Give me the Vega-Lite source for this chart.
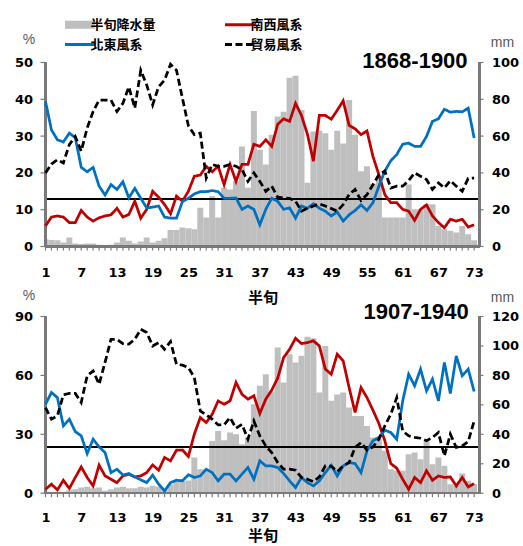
{
  "$schema": "https://vega.github.io/schema/vega-lite/v6.json",
  "padding": {"left": 13.5, "top": 17.5, "right": 0, "bottom": 0},
  "background": "white",
  "config": {
    "view": {"stroke": null},
    "font": "Liberation Sans",
    "axis": {"domain": false, "ticks": false, "labelFont": "DejaVu Sans", "labelFontWeight": "bold", "labelFontSize": 13, "labelColor": "#000000", "grid": false, "titleColor": "#000000", "labelOverlap": false}
  },
  "datasets": {
    "t": [
      {"i":1,"南西風系":5.6,"北東風系":39.4,"貿易風系":20.0,"mm":4.0},
      {"i":2,"南西風系":8.0,"北東風系":31.7,"貿易風系":22.4,"mm":3.6},
      {"i":3,"南西風系":8.3,"北東風系":29.0,"貿易風系":23.6,"mm":3.4},
      {"i":4,"南西風系":8.0,"北東風系":28.4,"貿易風系":22.7,"mm":2.2},
      {"i":5,"南西風系":6.5,"北東風系":30.8,"貿易風系":27.7,"mm":4.9},
      {"i":6,"南西風系":6.5,"北東風系":29.6,"貿易風系":29.9,"mm":1.6},
      {"i":7,"南西風系":9.8,"北東風系":21.5,"貿易風系":25.9,"mm":1.3},
      {"i":8,"南西風系":8.0,"北東風系":20.3,"貿易風系":32.2,"mm":1.6},
      {"i":9,"南西風系":6.9,"北東風系":21.5,"貿易風系":36.7,"mm":1.6},
      {"i":10,"南西風系":7.8,"北東風系":16.4,"貿易風系":39.8,"mm":0.9},
      {"i":11,"南西風系":8.3,"北東風系":14.0,"貿易風系":39.8,"mm":0.5},
      {"i":12,"南西風系":8.6,"北東風系":16.8,"貿易風系":39.8,"mm":0.9},
      {"i":13,"南西風系":10.4,"北東風系":15.5,"貿易風系":36.7,"mm":2.2},
      {"i":14,"南西風系":8.0,"北東風系":17.6,"貿易風系":38.9,"mm":4.9},
      {"i":15,"南西風系":8.7,"北東風系":13.2,"貿易風系":43.4,"mm":3.1},
      {"i":16,"南西風系":12.3,"北東風系":15.8,"貿易風系":37.6,"mm":1.6},
      {"i":17,"南西風系":7.7,"北東風系":13.1,"貿易風系":47.9,"mm":2.7},
      {"i":18,"南西風系":10.1,"北東風系":10.5,"貿易風系":43.9,"mm":4.9},
      {"i":19,"南西風系":15.0,"北東風系":10.7,"貿易風系":38.5,"mm":2.2},
      {"i":20,"南西風系":13.4,"北東風系":11.0,"貿易風系":43.4,"mm":3.1},
      {"i":21,"南西風系":11.4,"北東風系":8.0,"貿易風系":45.2,"mm":4.5},
      {"i":22,"南西風系":8.9,"北東風系":7.7,"貿易風系":49.5,"mm":9.0},
      {"i":23,"南西風系":13.7,"北東風系":7.7,"貿易風系":47.9,"mm":9.0},
      {"i":24,"南西風系":12.3,"北東風系":12.2,"貿易風系":40.3,"mm":10.3},
      {"i":25,"南西風系":15.0,"北東風系":13.1,"貿易風系":32.8,"mm":9.9},
      {"i":26,"南西風系":19.1,"北東風系":14.3,"貿易風系":30.4,"mm":9.4},
      {"i":27,"南西風系":19.4,"北東風系":14.9,"貿易風系":30.8,"mm":21.1},
      {"i":28,"南西風系":21.8,"北東風系":14.9,"貿易風系":18.6,"mm":15.7},
      {"i":29,"南西風系":20.3,"北東風系":15.2,"貿易風系":22.3,"mm":27.4},
      {"i":30,"南西風系":21.8,"北東風系":14.9,"貿易風系":21.8,"mm":15.7},
      {"i":31,"南西風系":16.8,"北東風系":13.1,"貿易風系":21.8,"mm":31.9},
      {"i":32,"南西風系":22.3,"北東風系":13.1,"貿易風系":22.3,"mm":31.0},
      {"i":33,"南西風系":17.7,"北東風系":13.2,"貿易風系":21.8,"mm":35.5},
      {"i":34,"南西風系":22.3,"北東風系":10.1,"貿易風系":20.9,"mm":54.4},
      {"i":35,"南西風系":22.3,"北東風系":11.0,"貿易風系":17.7,"mm":31.9},
      {"i":36,"南西風系":27.8,"北東風系":10.1,"貿易風系":20.0,"mm":73.7},
      {"i":37,"南西風系":27.2,"北東風系":5.9,"貿易風系":17.7,"mm":52.6},
      {"i":38,"南西風系":29.0,"北東風系":10.1,"貿易風系":15.0,"mm":44.5},
      {"i":39,"南西風系":27.2,"北東風系":13.1,"貿易風系":16.4,"mm":60.7},
      {"i":40,"南西風系":33.2,"北東風系":12.3,"貿易風系":13.4,"mm":70.6},
      {"i":41,"南西風系":34.7,"北東風系":10.1,"貿易風系":13.2,"mm":73.3},
      {"i":42,"南西風系":34.0,"北東風系":10.5,"貿易風系":13.1,"mm":91.7},
      {"i":43,"南西風系":38.9,"北東風系":7.7,"貿易風系":12.3,"mm":92.8},
      {"i":44,"南西風系":35.6,"北東風系":11.0,"貿易風系":9.6,"mm":74.2},
      {"i":45,"南西風系":30.5,"北東風系":10.4,"貿易風系":10.4,"mm":34.6},
      {"i":46,"南西風系":23.2,"北東風系":11.6,"貿易風系":11.0,"mm":62.5},
      {"i":47,"南西風系":35.6,"北東風系":10.4,"貿易風系":11.6,"mm":62.9},
      {"i":48,"南西風系":35.6,"北東風系":9.6,"貿易風系":11.0,"mm":61.6},
      {"i":49,"南西風系":34.6,"北東風系":8.3,"貿易風系":10.3,"mm":52.6},
      {"i":50,"南西風系":37.0,"北東風系":9.4,"貿易風系":9.6,"mm":62.9},
      {"i":51,"南西風系":39.6,"北東風系":6.9,"貿易風系":11.4,"mm":56.0},
      {"i":52,"南西風系":32.9,"北東風系":8.6,"貿易風系":14.1,"mm":79.6},
      {"i":53,"南西風系":32.0,"北東風系":9.8,"貿易風系":15.5,"mm":60.7},
      {"i":54,"南西風系":30.4,"北東風系":11.3,"貿易風系":12.5,"mm":40.9},
      {"i":55,"南西風系":31.4,"北東風系":9.8,"貿易風系":14.1,"mm":43.6},
      {"i":56,"南西風系":24.5,"北東風系":11.9,"貿易風系":16.8,"mm":34.1},
      {"i":57,"南西風系":19.5,"北東風系":16.4,"貿易風系":19.5,"mm":38.2},
      {"i":58,"南西風系":14.1,"北東風系":20.5,"貿易風系":20.5,"mm":15.7},
      {"i":59,"南西風系":11.9,"北東風系":23.3,"貿易風系":15.9,"mm":15.7},
      {"i":60,"南西風系":11.9,"北東風系":25.0,"貿易風系":16.4,"mm":15.7},
      {"i":61,"南西風系":10.1,"北東風系":27.8,"貿易風系":16.4,"mm":15.7},
      {"i":62,"南西風系":9.6,"北東風系":28.1,"貿易風系":17.9,"mm":33.7},
      {"i":63,"南西風系":7.1,"北東風系":27.2,"貿易風系":20.0,"mm":20.2},
      {"i":64,"南西風系":10.1,"北東風系":27.2,"貿易風系":19.1,"mm":20.2},
      {"i":65,"南西風系":11.3,"北東風系":29.9,"貿易風系":18.2,"mm":22.9},
      {"i":66,"南西風系":8.3,"北東風系":34.0,"貿易風系":15.5,"mm":22.9},
      {"i":67,"南西風系":6.5,"北東風系":34.7,"貿易風系":17.3,"mm":11.2},
      {"i":68,"南西風系":5.1,"北東風系":37.3,"貿易風系":15.9,"mm":9.4},
      {"i":69,"南西風系":7.4,"北東風系":36.5,"貿易風系":17.9,"mm":8.5},
      {"i":70,"南西風系":6.9,"北東風系":36.7,"貿易風系":16.4,"mm":7.6},
      {"i":71,"南西風系":7.4,"北東風系":36.6,"貿易風系":15.0,"mm":11.2},
      {"i":72,"南西風系":5.3,"北東風系":37.6,"貿易風系":18.5,"mm":6.7},
      {"i":73,"南西風系":5.9,"北東風系":29.5,"貿易風系":18.6,"mm":3.4}
    ],
    "b": [
      {"i":1,"南西風系":2.0,"北東風系":45.3,"貿易風系":43.6,"mm":1.0},
      {"i":2,"南西風系":4.6,"北東風系":51.3,"貿易風系":37.7,"mm":1.0},
      {"i":3,"南西風系":1.7,"北東風系":48.7,"貿易風系":39.4,"mm":1.0},
      {"i":4,"南西風系":6.6,"北東風系":34.3,"貿易風系":50.1,"mm":1.0},
      {"i":5,"南西風系":2.4,"北東風系":37.7,"貿易風系":50.8,"mm":2.0},
      {"i":6,"南西風系":8.0,"北東風系":31.4,"貿易風系":50.8,"mm":2.7},
      {"i":7,"南西風系":13.4,"北東風系":29.2,"貿易風系":46.2,"mm":3.8},
      {"i":8,"南西風系":8.0,"北東風系":20.2,"貿易風系":59.8,"mm":4.3},
      {"i":9,"南西風系":3.7,"北東風系":27.5,"貿易風系":62.3,"mm":3.4},
      {"i":10,"南西風系":14.3,"北東風系":23.6,"貿易風系":55.5,"mm":3.8},
      {"i":11,"南西風系":8.8,"北東風系":20.7,"貿易風系":66.6,"mm":1.6},
      {"i":12,"南西風系":7.1,"北東風系":10.5,"貿易風系":78.4,"mm":2.7},
      {"i":13,"南西風系":5.4,"北東風系":12.2,"貿易風系":78.4,"mm":3.8},
      {"i":14,"南西風系":8.8,"北東風系":9.3,"貿易風系":76.2,"mm":4.3},
      {"i":15,"南西風系":9.7,"北東風系":10.0,"貿易風系":75.9,"mm":3.4},
      {"i":16,"南西風系":8.3,"北東風系":8.3,"貿易風系":78.4,"mm":3.4},
      {"i":17,"南西風系":8.8,"北東風系":6.8,"貿易風系":83.5,"mm":4.3},
      {"i":18,"南西風系":10.5,"北東風系":5.4,"貿易風系":81.8,"mm":3.8},
      {"i":19,"南西風系":14.4,"北東風系":9.2,"貿易風系":75.0,"mm":5.0},
      {"i":20,"南西風系":11.7,"北東風系":4.6,"貿易風系":76.7,"mm":4.3},
      {"i":21,"南西風系":18.2,"北東風系":1.2,"貿易風系":73.3,"mm":2.7},
      {"i":22,"南西風系":16.5,"北東風系":5.4,"貿易風系":77.2,"mm":6.1},
      {"i":23,"南西風系":21.9,"北東風系":6.6,"貿易風系":65.7,"mm":7.9},
      {"i":24,"南西風系":22.0,"北東風系":6.3,"貿易風系":65.2,"mm":8.4},
      {"i":25,"南西風系":18.7,"北東風系":9.4,"貿易風系":64.0,"mm":8.6},
      {"i":26,"南西風系":30.1,"北東風系":8.0,"貿易風系":58.9,"mm":24.2},
      {"i":27,"南西風系":38.5,"北東風系":8.8,"貿易風系":41.9,"mm":16.3},
      {"i":28,"南西風系":36.0,"北東風系":12.2,"貿易風系":39.9,"mm":16.3},
      {"i":29,"南西風系":40.2,"北東風系":10.5,"貿易風系":37.7,"mm":35.5},
      {"i":30,"南西風系":47.0,"北東風系":6.3,"貿易風系":34.8,"mm":42.3},
      {"i":31,"南西風系":45.3,"北東風系":9.7,"貿易風系":34.8,"mm":36.0},
      {"i":32,"南西風系":47.0,"北東風系":9.7,"貿易風系":38.5,"mm":41.2},
      {"i":33,"南西風系":56.4,"北東風系":6.3,"貿易風系":33.1,"mm":40.1},
      {"i":34,"南西風系":50.4,"北東風系":9.7,"貿易風系":35.1,"mm":33.3},
      {"i":35,"南西風系":47.9,"北東風系":13.1,"貿易風系":27.5,"mm":37.8},
      {"i":36,"南西風系":49.6,"北東風系":7.1,"貿易風系":36.8,"mm":60.4},
      {"i":37,"南西風系":40.6,"北東風系":16.5,"貿易風系":29.2,"mm":72.9},
      {"i":38,"南西風系":47.9,"北東風系":13.9,"貿易風系":24.1,"mm":80.8},
      {"i":39,"南西風系":52.5,"北東風系":13.9,"貿易風系":20.7,"mm":69.1},
      {"i":40,"南西風系":58.6,"北東風系":13.1,"貿易風系":15.6,"mm":98.9},
      {"i":41,"南西風系":69.1,"北東風系":10.0,"貿易風系":12.2,"mm":75.2},
      {"i":42,"南西風系":73.3,"北東風系":6.3,"貿易風系":12.2,"mm":94.4},
      {"i":43,"南西風系":78.9,"北東風系":2.9,"貿易風系":11.7,"mm":88.7},
      {"i":44,"南西風系":76.2,"北東風系":8.0,"貿易風系":8.0,"mm":93.3},
      {"i":45,"南西風系":76.7,"北東風系":5.4,"貿易風系":7.1,"mm":106.2},
      {"i":46,"南西風系":77.6,"北東風系":3.7,"貿易風系":5.9,"mm":105.3},
      {"i":47,"南西風系":75.0,"北東風系":6.3,"貿易風系":8.3,"mm":68.4},
      {"i":48,"南西風系":63.2,"北東風系":10.5,"貿易風系":13.9,"mm":100.0},
      {"i":49,"南西風系":60.6,"北東風系":14.2,"貿易風系":13.8,"mm":62.7},
      {"i":50,"南西風系":70.8,"北東風系":8.8,"貿易風系":11.0,"mm":67.0},
      {"i":51,"南西風系":67.4,"北東風系":13.9,"貿易風系":13.9,"mm":68.4},
      {"i":52,"南西風系":53.8,"北東風系":15.6,"貿易風系":15.6,"mm":58.2},
      {"i":53,"南西風系":41.1,"北東風系":15.1,"貿易風系":23.3,"mm":52.5},
      {"i":54,"南西風系":53.8,"北東風系":10.5,"貿易風系":25.8,"mm":52.5},
      {"i":55,"南西風系":48.7,"北東風系":21.6,"貿易風系":21.9,"mm":45.7},
      {"i":56,"南西風系":42.3,"北東風系":26.7,"貿易風系":23.6,"mm":37.8},
      {"i":57,"南西風系":35.5,"北東風系":28.4,"貿易風系":27.5,"mm":36.7},
      {"i":58,"南西風系":26.7,"北東風系":32.1,"貿易風系":34.3,"mm":28.8},
      {"i":59,"南西風系":15.1,"北東風系":30.9,"貿易風系":40.2,"mm":16.3},
      {"i":60,"南西風系":12.7,"北東風系":27.5,"貿易風系":48.7,"mm":15.2},
      {"i":61,"南西風系":7.1,"北東風系":47.0,"貿易風系":31.7,"mm":15.2},
      {"i":62,"南西風系":2.0,"北東風系":60.6,"貿易風系":29.2,"mm":26.5},
      {"i":63,"南西風系":8.0,"北東風系":54.7,"貿易風系":28.4,"mm":27.6},
      {"i":64,"南西風系":5.4,"北東風系":63.2,"貿易風系":28.0,"mm":23.1},
      {"i":65,"南西風系":11.4,"北東風系":52.1,"貿易風系":26.7,"mm":35.1},
      {"i":66,"南西風系":6.6,"北東風系":58.1,"貿易風系":28.4,"mm":19.7},
      {"i":67,"南西風系":8.8,"北東風系":47.0,"貿易風系":30.9,"mm":24.2},
      {"i":68,"南西風系":8.0,"北東風系":66.6,"貿易風系":19.0,"mm":18.6},
      {"i":69,"南西風系":8.3,"北東風系":50.8,"貿易風系":30.1,"mm":6.1},
      {"i":70,"南西風系":3.7,"北東風系":69.9,"貿易風系":23.3,"mm":5.0},
      {"i":71,"南西風系":8.0,"北東風系":59.8,"貿易風系":24.1,"mm":13.4},
      {"i":72,"南西風系":3.2,"北東風系":63.2,"貿易風系":26.3,"mm":8.4},
      {"i":73,"南西風系":4.9,"北東風系":51.8,"貿易風系":36.8,"mm":6.1}
    ]
  },
  "bounds": "flush",
  "spacing": 70,
  "resolve": {"scale": {"color": "shared"}, "legend": {"color": "shared"}},
  "vconcat": [
    {
      "width": 434, "height": 184,
      "data": {"name": "t"},
      "resolve": {"scale": {"y": "independent"}},
      "layer": [
        {
          "layer": [
            {
              "mark": {"type": "bar", "width": 6.0, "clip": true},
              "encoding": {
                "x": {"field": "i", "type": "quantitative", "scale": {"domain": [1, 73.9], "nice": false, "zero": false, "padding": 0},
                  "axis": {"values": [1,7,13,19,25,31,37,43,49,55,61,67,73], "labelOverlap": false, "labelFlush": false, "labelPadding": 20, "title": "半旬", "titleFont": "Noto Sans CJK TC", "titleFontSize": 15, "titleFontWeight": "bold", "titlePadding": 11}},
                "y": {"field": "mm", "type": "quantitative", "scale": {"domain": [0, 100], "nice": false},
                  "axis": {"orient": "right", "values": [0,20,40,60,80,100], "labelOverlap": false, "labelPadding": 12, "title": "mm", "titleAngle": 0, "titleX": 22.5, "titleY": -16, "titleAlign": "center", "titleBaseline": "alphabetic", "titleFontWeight": "normal", "titleFontSize": 14, "titleColor": "#595959"}},
                "color": {"datum": "半旬降水量", "type": "nominal",
                  "scale": {"domain": ["半旬降水量", "北東風系", "南西風系", "貿易風系"], "range": ["#BFBFBF", "#0070C0", "#C00000", "#000000"]},
                  "legend": {"orient": "none", "legendX": 28, "legendY": -44.5, "columns": 2, "title": null,
                    "labelFont": "Noto Sans CJK TC", "labelFontSize": 13, "labelFontWeight": "bold", "labelColor": "#000000",
                    "labelOffset": 4, "columnPadding": 62, "rowPadding": 6, "symbolSize": 900, "symbolType": "stroke", "symbolStrokeWidth": 3,
                    "encode": {"symbols": {"update": {
                      "shape": {"signal": "datum.value === '半旬降水量' ? 'M-1,-0.27H1V0.27H-1Z' : 'stroke'"},
                      "fill": {"signal": "datum.value === '半旬降水量' ? '#BFBFBF' : 'transparent'"},
                      "stroke": {"signal": "datum.value === '半旬降水量' ? 'transparent' : datum.value === '南西風系' ? '#C00000' : datum.value === '北東風系' ? '#0070C0' : '#000000'"},
                      "strokeWidth": {"signal": "datum.value === '半旬降水量' ? 0 : 3"},
                      "strokeDash": {"signal": "datum.value === '貿易風系' ? [6, 3] : []"},
                      "opacity": {"value": 1}
                    }}}}
                }
              }
            },
            {
              "data": {"values": [{"mm": 0}, {"mm": 20}, {"mm": 40}, {"mm": 60}, {"mm": 80}, {"mm": 100}]},
              "mark": {"type": "rule", "color": "#7a7a7a", "strokeWidth": 1.2},
              "encoding": {
                "y": {"field": "mm", "type": "quantitative", "scale": {"domain": [0, 100], "nice": false},
                  "axis": {"orient": "right", "values": [0,20,40,60,80,100], "labelOverlap": false, "labelPadding": 12, "title": "mm", "titleAngle": 0, "titleX": 22.5, "titleY": -16, "titleAlign": "center", "titleBaseline": "alphabetic", "titleFontWeight": "normal", "titleFontSize": 14, "titleColor": "#595959"}},
                "x": {"datum": 73.9, "scale": {"domain": [1, 73.9], "nice": false, "zero": false, "padding": 0},
                  "axis": {"values": [1,7,13,19,25,31,37,43,49,55,61,67,73], "labelOverlap": false, "labelFlush": false, "labelPadding": 20, "title": "半旬", "titleFont": "Noto Sans CJK TC", "titleFontSize": 15, "titleFontWeight": "bold", "titlePadding": 11}},
                "x2": {"datum": 74.57}
              }
            }
          ]
        },
        {
          "layer": [
            {"mark": {"type": "rule", "color": "#000000", "strokeWidth": 1},
             "encoding": {"y": {"datum": 12.85, "scale": {"domain": [0, 50], "nice": false},
               "axis": {"orient": "left", "values": [0,10,20,30,40,50], "labelOverlap": false, "labelPadding": 13, "title": "%", "titleAngle": 0, "titleX": -17, "titleY": -19, "titleAlign": "center", "titleBaseline": "alphabetic", "titleFontWeight": "normal", "titleFontSize": 14, "titleColor": "#595959"}}}},
            {"mark": {"type": "rule", "color": "#7a7a7a", "strokeWidth": 1.7},
             "encoding": {"x": {"datum": 1, "scale": {"domain": [1, 73.9], "nice": false, "zero": false, "padding": 0},
               "axis": {"values": [1,7,13,19,25,31,37,43,49,55,61,67,73], "labelOverlap": false, "labelFlush": false, "labelPadding": 20, "title": "半旬", "titleFont": "Noto Sans CJK TC", "titleFontSize": 15, "titleFontWeight": "bold", "titlePadding": 11}}}},
            {"mark": {"type": "rule", "color": "#7a7a7a", "strokeWidth": 1.7},
             "encoding": {"x": {"datum": 73.9, "scale": {"domain": [1, 73.9], "nice": false, "zero": false, "padding": 0},
               "axis": {"values": [1,7,13,19,25,31,37,43,49,55,61,67,73], "labelOverlap": false, "labelFlush": false, "labelPadding": 20, "title": "半旬", "titleFont": "Noto Sans CJK TC", "titleFontSize": 15, "titleFontWeight": "bold", "titlePadding": 11}}}},
            {"mark": {"type": "rule", "color": "#7a7a7a", "strokeWidth": 1.7},
             "encoding": {"y": {"datum": 0, "scale": {"domain": [0, 50], "nice": false},
               "axis": {"orient": "left", "values": [0,10,20,30,40,50], "labelOverlap": false, "labelPadding": 13, "title": "%", "titleAngle": 0, "titleX": -17, "titleY": -19, "titleAlign": "center", "titleBaseline": "alphabetic", "titleFontWeight": "normal", "titleFontSize": 14, "titleColor": "#595959"}}}},
            {
              "mark": {"type": "rule", "color": "#7a7a7a", "strokeWidth": 1.2},
              "encoding": {
                "x": {"field": "i", "type": "quantitative", "scale": {"domain": [1, 73.9], "nice": false, "zero": false, "padding": 0},
                  "axis": {"values": [1,7,13,19,25,31,37,43,49,55,61,67,73], "labelOverlap": false, "labelFlush": false, "labelPadding": 20, "title": "半旬", "titleFont": "Noto Sans CJK TC", "titleFontSize": 15, "titleFontWeight": "bold", "titlePadding": 11}},
                "y": {"datum": 0, "scale": {"domain": [0, 50], "nice": false},
                  "axis": {"orient": "left", "values": [0,10,20,30,40,50], "labelOverlap": false, "labelPadding": 13, "title": "%", "titleAngle": 0, "titleX": -17, "titleY": -19, "titleAlign": "center", "titleBaseline": "alphabetic", "titleFontWeight": "normal", "titleFontSize": 14, "titleColor": "#595959"}},
                "y2": {"datum": -1.1}
              }
            },
            {
              "data": {"values": [{"v": 0}, {"v": 10}, {"v": 20}, {"v": 30}, {"v": 40}, {"v": 50}]},
              "mark": {"type": "rule", "color": "#7a7a7a", "strokeWidth": 1.2},
              "encoding": {
                "y": {"field": "v", "type": "quantitative", "scale": {"domain": [0, 50], "nice": false},
                  "axis": {"orient": "left", "values": [0,10,20,30,40,50], "labelOverlap": false, "labelPadding": 13, "title": "%", "titleAngle": 0, "titleX": -17, "titleY": -19, "titleAlign": "center", "titleBaseline": "alphabetic", "titleFontWeight": "normal", "titleFontSize": 14, "titleColor": "#595959"}},
                "x": {"datum": 1, "scale": {"domain": [1, 73.9], "nice": false, "zero": false, "padding": 0},
                  "axis": {"values": [1,7,13,19,25,31,37,43,49,55,61,67,73], "labelOverlap": false, "labelFlush": false, "labelPadding": 20, "title": "半旬", "titleFont": "Noto Sans CJK TC", "titleFontSize": 15, "titleFontWeight": "bold", "titlePadding": 11}},
                "x2": {"datum": 0.16}
              }
            },
            {
              "transform": [{"fold": ["南西風系", "北東風系", "貿易風系"], "as": ["s", "v"]}],
              "mark": {"type": "line", "strokeWidth": 2.75},
              "encoding": {
                "x": {"field": "i", "type": "quantitative", "scale": {"domain": [1, 73.9], "nice": false, "zero": false, "padding": 0},
                  "axis": {"values": [1,7,13,19,25,31,37,43,49,55,61,67,73], "labelOverlap": false, "labelFlush": false, "labelPadding": 20, "title": "半旬", "titleFont": "Noto Sans CJK TC", "titleFontSize": 15, "titleFontWeight": "bold", "titlePadding": 11}},
                "y": {"field": "v", "type": "quantitative", "scale": {"domain": [0, 50], "nice": false},
                  "axis": {"orient": "left", "values": [0,10,20,30,40,50], "labelOverlap": false, "labelPadding": 13, "title": "%", "titleAngle": 0, "titleX": -17, "titleY": -19, "titleAlign": "center", "titleBaseline": "alphabetic", "titleFontWeight": "normal", "titleFontSize": 14, "titleColor": "#595959"}},
                "color": {"field": "s", "type": "nominal", "title": null, "scale": {"domain": ["半旬降水量", "北東風系", "南西風系", "貿易風系"], "range": ["#BFBFBF", "#0070C0", "#C00000", "#000000"]}},
                "strokeDash": {"field": "s", "type": "nominal", "title": null, "scale": {"domain": ["半旬降水量", "北東風系", "南西風系", "貿易風系"], "range": [[1, 0], [1, 0], [1, 0], [7, 3.5]]}, "legend": null}
              }
            },
            {
              "data": {"values": [{"label": "1868-1900"}]},
              "mark": {"type": "text", "font": "Liberation Sans", "fontWeight": "bold", "fontSize": 22, "align": "right", "baseline": "alphabetic", "color": "#000000"},
              "encoding": {
                "x": {"datum": 71.9, "scale": {"domain": [1, 73.9], "nice": false, "zero": false, "padding": 0},
                  "axis": {"values": [1,7,13,19,25,31,37,43,49,55,61,67,73], "labelOverlap": false, "labelFlush": false, "labelPadding": 20, "title": "半旬", "titleFont": "Noto Sans CJK TC", "titleFontSize": 15, "titleFontWeight": "bold", "titlePadding": 11}},
                "y": {"datum": 48.6, "scale": {"domain": [0, 50], "nice": false},
                  "axis": {"orient": "left", "values": [0,10,20,30,40,50], "labelOverlap": false, "labelPadding": 13, "title": "%", "titleAngle": 0, "titleX": -17, "titleY": -19, "titleAlign": "center", "titleBaseline": "alphabetic", "titleFontWeight": "normal", "titleFontSize": 14, "titleColor": "#595959"}},
                "text": {"field": "label"}}
            }
          ]
        }
      ]
    },
    {
      "width": 434, "height": 176.7,
      "data": {"name": "b"},
      "resolve": {"scale": {"y": "independent"}},
      "layer": [
        {
          "layer": [
            {
              "mark": {"type": "bar", "width": 6.0, "clip": true},
              "encoding": {
                "x": {"field": "i", "type": "quantitative", "scale": {"domain": [1, 73.9], "nice": false, "zero": false, "padding": 0},
                  "axis": {"values": [1,7,13,19,25,31,37,43,49,55,61,67,73], "labelOverlap": false, "labelFlush": false, "labelPadding": 18, "title": "半旬", "titleFont": "Noto Sans CJK TC", "titleFontSize": 15, "titleFontWeight": "bold", "titlePadding": 4}},
                "y": {"field": "mm", "type": "quantitative", "scale": {"domain": [0, 120], "nice": false},
                  "axis": {"orient": "right", "values": [0,20,40,60,80,100,120], "labelOverlap": false, "labelPadding": 12, "title": "mm", "titleAngle": 0, "titleX": 22.5, "titleY": -15, "titleAlign": "center", "titleBaseline": "alphabetic", "titleFontWeight": "normal", "titleFontSize": 14, "titleColor": "#595959"}},
                "color": {"datum": "半旬降水量", "type": "nominal", "scale": {"domain": ["半旬降水量", "北東風系", "南西風系", "貿易風系"], "range": ["#BFBFBF", "#0070C0", "#C00000", "#000000"]}}
              }
            },
            {
              "data": {"values": [{"mm": 0}, {"mm": 20}, {"mm": 40}, {"mm": 60}, {"mm": 80}, {"mm": 100}, {"mm": 120}]},
              "mark": {"type": "rule", "color": "#7a7a7a", "strokeWidth": 1.2},
              "encoding": {
                "y": {"field": "mm", "type": "quantitative", "scale": {"domain": [0, 120], "nice": false},
                  "axis": {"orient": "right", "values": [0,20,40,60,80,100,120], "labelOverlap": false, "labelPadding": 12, "title": "mm", "titleAngle": 0, "titleX": 22.5, "titleY": -15, "titleAlign": "center", "titleBaseline": "alphabetic", "titleFontWeight": "normal", "titleFontSize": 14, "titleColor": "#595959"}},
                "x": {"datum": 73.9, "scale": {"domain": [1, 73.9], "nice": false, "zero": false, "padding": 0},
                  "axis": {"values": [1,7,13,19,25,31,37,43,49,55,61,67,73], "labelOverlap": false, "labelFlush": false, "labelPadding": 18, "title": "半旬", "titleFont": "Noto Sans CJK TC", "titleFontSize": 15, "titleFontWeight": "bold", "titlePadding": 4}},
                "x2": {"datum": 74.57}
              }
            }
          ]
        },
        {
          "layer": [
            {"mark": {"type": "rule", "color": "#000000", "strokeWidth": 1},
             "encoding": {"y": {"datum": 23.6, "scale": {"domain": [0, 90], "nice": false},
               "axis": {"orient": "left", "values": [0,30,60,90], "labelOverlap": false, "labelPadding": 13, "title": "%", "titleAngle": 0, "titleX": -17, "titleY": -17, "titleAlign": "center", "titleBaseline": "alphabetic", "titleFontWeight": "normal", "titleFontSize": 14, "titleColor": "#595959"}}}},
            {"mark": {"type": "rule", "color": "#7a7a7a", "strokeWidth": 1.7},
             "encoding": {"x": {"datum": 1, "scale": {"domain": [1, 73.9], "nice": false, "zero": false, "padding": 0},
               "axis": {"values": [1,7,13,19,25,31,37,43,49,55,61,67,73], "labelOverlap": false, "labelFlush": false, "labelPadding": 18, "title": "半旬", "titleFont": "Noto Sans CJK TC", "titleFontSize": 15, "titleFontWeight": "bold", "titlePadding": 4}}}},
            {"mark": {"type": "rule", "color": "#7a7a7a", "strokeWidth": 1.7},
             "encoding": {"x": {"datum": 73.9, "scale": {"domain": [1, 73.9], "nice": false, "zero": false, "padding": 0},
               "axis": {"values": [1,7,13,19,25,31,37,43,49,55,61,67,73], "labelOverlap": false, "labelFlush": false, "labelPadding": 18, "title": "半旬", "titleFont": "Noto Sans CJK TC", "titleFontSize": 15, "titleFontWeight": "bold", "titlePadding": 4}}}},
            {"mark": {"type": "rule", "color": "#7a7a7a", "strokeWidth": 1.7},
             "encoding": {"y": {"datum": 0, "scale": {"domain": [0, 90], "nice": false},
               "axis": {"orient": "left", "values": [0,30,60,90], "labelOverlap": false, "labelPadding": 13, "title": "%", "titleAngle": 0, "titleX": -17, "titleY": -17, "titleAlign": "center", "titleBaseline": "alphabetic", "titleFontWeight": "normal", "titleFontSize": 14, "titleColor": "#595959"}}}},
            {
              "mark": {"type": "rule", "color": "#7a7a7a", "strokeWidth": 1.2},
              "encoding": {
                "x": {"field": "i", "type": "quantitative", "scale": {"domain": [1, 73.9], "nice": false, "zero": false, "padding": 0},
                  "axis": {"values": [1,7,13,19,25,31,37,43,49,55,61,67,73], "labelOverlap": false, "labelFlush": false, "labelPadding": 18, "title": "半旬", "titleFont": "Noto Sans CJK TC", "titleFontSize": 15, "titleFontWeight": "bold", "titlePadding": 4}},
                "y": {"datum": 0, "scale": {"domain": [0, 90], "nice": false},
                  "axis": {"orient": "left", "values": [0,30,60,90], "labelOverlap": false, "labelPadding": 13, "title": "%", "titleAngle": 0, "titleX": -17, "titleY": -17, "titleAlign": "center", "titleBaseline": "alphabetic", "titleFontWeight": "normal", "titleFontSize": 14, "titleColor": "#595959"}},
                "y2": {"datum": -2.04}
              }
            },
            {
              "data": {"values": [{"v": 0}, {"v": 30}, {"v": 60}, {"v": 90}]},
              "mark": {"type": "rule", "color": "#7a7a7a", "strokeWidth": 1.2},
              "encoding": {
                "y": {"field": "v", "type": "quantitative", "scale": {"domain": [0, 90], "nice": false},
                  "axis": {"orient": "left", "values": [0,30,60,90], "labelOverlap": false, "labelPadding": 13, "title": "%", "titleAngle": 0, "titleX": -17, "titleY": -17, "titleAlign": "center", "titleBaseline": "alphabetic", "titleFontWeight": "normal", "titleFontSize": 14, "titleColor": "#595959"}},
                "x": {"datum": 1, "scale": {"domain": [1, 73.9], "nice": false, "zero": false, "padding": 0},
                  "axis": {"values": [1,7,13,19,25,31,37,43,49,55,61,67,73], "labelOverlap": false, "labelFlush": false, "labelPadding": 18, "title": "半旬", "titleFont": "Noto Sans CJK TC", "titleFontSize": 15, "titleFontWeight": "bold", "titlePadding": 4}},
                "x2": {"datum": 0.16}
              }
            },
            {
              "transform": [{"fold": ["南西風系", "北東風系", "貿易風系"], "as": ["s", "v"]}],
              "mark": {"type": "line", "strokeWidth": 2.75},
              "encoding": {
                "x": {"field": "i", "type": "quantitative", "scale": {"domain": [1, 73.9], "nice": false, "zero": false, "padding": 0},
                  "axis": {"values": [1,7,13,19,25,31,37,43,49,55,61,67,73], "labelOverlap": false, "labelFlush": false, "labelPadding": 18, "title": "半旬", "titleFont": "Noto Sans CJK TC", "titleFontSize": 15, "titleFontWeight": "bold", "titlePadding": 4}},
                "y": {"field": "v", "type": "quantitative", "scale": {"domain": [0, 90], "nice": false},
                  "axis": {"orient": "left", "values": [0,30,60,90], "labelOverlap": false, "labelPadding": 13, "title": "%", "titleAngle": 0, "titleX": -17, "titleY": -17, "titleAlign": "center", "titleBaseline": "alphabetic", "titleFontWeight": "normal", "titleFontSize": 14, "titleColor": "#595959"}},
                "color": {"field": "s", "type": "nominal", "title": null, "scale": {"domain": ["半旬降水量", "北東風系", "南西風系", "貿易風系"], "range": ["#BFBFBF", "#0070C0", "#C00000", "#000000"]}},
                "strokeDash": {"field": "s", "type": "nominal", "title": null, "scale": {"domain": ["半旬降水量", "北東風系", "南西風系", "貿易風系"], "range": [[1, 0], [1, 0], [1, 0], [7, 3.5]]}, "legend": null}
              }
            },
            {
              "data": {"values": [{"label": "1907-1940"}]},
              "mark": {"type": "text", "font": "Liberation Sans", "fontWeight": "bold", "fontSize": 22, "align": "right", "baseline": "alphabetic", "color": "#000000"},
              "encoding": {
                "x": {"datum": 72.1, "scale": {"domain": [1, 73.9], "nice": false, "zero": false, "padding": 0},
                  "axis": {"values": [1,7,13,19,25,31,37,43,49,55,61,67,73], "labelOverlap": false, "labelFlush": false, "labelPadding": 18, "title": "半旬", "titleFont": "Noto Sans CJK TC", "titleFontSize": 15, "titleFontWeight": "bold", "titlePadding": 4}},
                "y": {"datum": 88.6, "scale": {"domain": [0, 90], "nice": false},
                  "axis": {"orient": "left", "values": [0,30,60,90], "labelOverlap": false, "labelPadding": 13, "title": "%", "titleAngle": 0, "titleX": -17, "titleY": -17, "titleAlign": "center", "titleBaseline": "alphabetic", "titleFontWeight": "normal", "titleFontSize": 14, "titleColor": "#595959"}},
                "text": {"field": "label"}}
            }
          ]
        }
      ]
    }
  ]
}
